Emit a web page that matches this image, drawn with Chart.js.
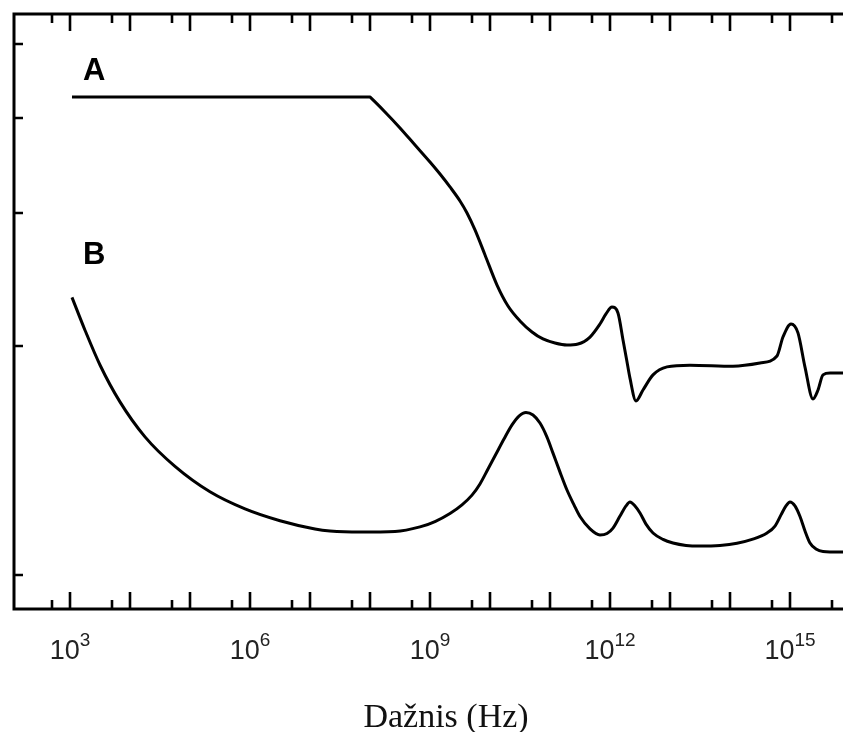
<!DOCTYPE html>
<html>
<head>
<meta charset="utf-8">
<script src="https://cdn.jsdelivr.net/npm/chart.js@4.4.1/dist/chart.umd.min.js"></script>
<style>
    html, body { margin: 0; padding: 0; background: #fff; overflow: hidden; }
    #wrap { position: absolute; left: 0; top: 0; width: 880px; height: 732px; }
</style>
</head>
<body>
<div id="wrap"><canvas id="chart" width="880" height="732"></canvas></div>
<script>
// Curve A: log10 of frequency and value
const aLogHz = [3.033, 5.5, 7.5, 8.0, 8.02, 8.25, 8.5, 8.75, 9.0, 9.167, 9.333, 9.5, 9.617, 9.75, 9.917,
    10.117, 10.3, 10.5, 10.7, 10.883, 11.083, 11.283, 11.467, 11.667, 11.833, 11.933, 12.033,
    12.133, 12.217, 12.275, 12.333, 12.433, 12.55, 12.717, 12.95, 13.333, 14.05, 14.5, 14.783,
    14.883, 15.017, 15.133, 15.25, 15.383, 15.467, 15.55, 15.667, 15.9];
const aValues = [4.257, 4.257, 4.257, 4.257, 4.243, 4.069, 3.877, 3.681, 3.496, 3.371, 3.242, 3.107, 2.996, 2.846, 2.638,
    2.408, 2.260, 2.160, 2.089, 2.045, 2.020, 2.008, 2.014, 2.057, 2.140, 2.206, 2.253,
    2.213, 2.039, 1.925, 1.816, 1.695, 1.752, 1.834, 1.879, 1.889, 1.883, 1.901, 1.942,
    2.057, 2.140, 2.083, 1.878, 1.705, 1.752, 1.834, 1.844, 1.844];

// Curve B
const bLogHz = [3.033, 3.25, 3.5, 3.833, 4.25, 4.75, 5.333, 5.917, 6.5, 7.083, 7.333, 7.833, 8.417,
    8.833, 9.083, 9.333, 9.533, 9.7, 9.833, 9.967, 10.1, 10.233, 10.367, 10.483, 10.6, 10.717,
    10.833, 10.95, 11.05, 11.167, 11.283, 11.4, 11.5, 11.667, 11.833, 11.95, 12.05, 12.167,
    12.267, 12.333, 12.417, 12.5, 12.6, 12.717, 12.883, 13.05, 13.267, 13.5, 13.833, 14.117,
    14.367, 14.617, 14.75, 14.85, 14.933, 15.0, 15.083, 15.167, 15.25, 15.333, 15.433, 15.55, 15.9];
const bValues = [2.32, 2.10, 1.89, 1.69, 1.52, 1.39, 1.287, 1.222, 1.179, 1.150, 1.143, 1.139, 1.141,
    1.157, 1.176, 1.205, 1.237, 1.274, 1.318, 1.379, 1.443, 1.510, 1.576, 1.619, 1.637, 1.624,
    1.585, 1.519, 1.447, 1.366, 1.294, 1.237, 1.194, 1.150, 1.129, 1.134, 1.153, 1.196,
    1.233, 1.248, 1.233, 1.207, 1.167, 1.136, 1.114, 1.102, 1.094, 1.092, 1.094, 1.101,
    1.114, 1.136, 1.160, 1.200, 1.233, 1.248, 1.233, 1.194, 1.143, 1.102, 1.082, 1.074, 1.072];

// Axis ticks
const xMajorTicks = [1e3, 1e4, 1e5, 1e6, 1e7, 1e8, 1e9, 1e10, 1e11, 1e12, 1e13, 1e14, 1e15, 1e16];
const xMinorTicks = [5e2, 5e3, 5e4, 5e5, 5e6, 5e7, 5e8, 5e9, 5e10, 5e11, 5e12, 5e13, 5e14, 5e15];
const xLabelExps = [3, 6, 9, 12, 15];
const yTicks = [1, 2, 3, 4, 5];

// Curve names placed at data coordinates
const curveNames = ['A', 'B'];
const nameHz = [1650, 1650];
const nameValues = [4.48, 2.57];

const xTitle = 'Dažnis (Hz)';

const toPoints = (lg, vals) => lg.map((e, i) => ({ x: Math.pow(10, e), y: vals[i] }));

const framePlugin = {
    id: 'frame',
    afterDraw(chart) {
        const { ctx, chartArea: area, scales: { x, y } } = chart;
        ctx.save();
        ctx.strokeStyle = '#000';
        ctx.lineCap = 'butt';

        // inward ticks on all four sides
        ctx.lineWidth = 2.6;
        ctx.beginPath();
        x.ticks.forEach(t => {
            const px = Math.round(x.getPixelForValue(t.value));
            const len = t.major ? 17 : 9;
            ctx.moveTo(px, area.bottom); ctx.lineTo(px, area.bottom - len);
            ctx.moveTo(px, area.top); ctx.lineTo(px, area.top + len);
        });
        y.ticks.forEach(t => {
            const py = Math.round(y.getPixelForValue(t.value));
            ctx.moveTo(area.left, py); ctx.lineTo(area.left + 9, py);
            ctx.moveTo(area.right, py); ctx.lineTo(area.right - 9, py);
        });
        ctx.stroke();

        ctx.lineWidth = 3;
        ctx.strokeRect(area.left, area.top, area.right - area.left, area.bottom - area.top);

        // decade labels with superscript exponents
        ctx.fillStyle = '#222';
        ctx.textBaseline = 'alphabetic';
        ctx.textAlign = 'left';
        const big = '27px "Liberation Sans", Arial, sans-serif';
        const small = '19px "Liberation Sans", Arial, sans-serif';
        xLabelExps.forEach(e => {
            const px = x.getPixelForValue(Math.pow(10, e));
            ctx.font = big;
            const w1 = ctx.measureText('10').width;
            ctx.font = small;
            const w2 = ctx.measureText(String(e)).width;
            const x0 = px - (w1 + w2) / 2;
            ctx.font = big;
            ctx.fillText('10', x0, area.bottom + 50);
            ctx.font = small;
            ctx.fillText(String(e), x0 + w1, area.bottom + 37);
        });

        // axis title
        ctx.fillStyle = '#111';
        ctx.textAlign = 'center';
        ctx.font = '34px "Liberation Serif", "Times New Roman", serif';
        ctx.fillText(xTitle, (area.left + area.right) / 2 + 13, area.bottom + 118);

        // curve names
        ctx.fillStyle = '#000';
        ctx.textAlign = 'left';
        ctx.font = 'bold 31px "Liberation Sans", Arial, sans-serif';
        curveNames.forEach((n, i) => {
            ctx.fillText(n, x.getPixelForValue(nameHz[i]), y.getPixelForValue(nameValues[i]));
        });
        ctx.restore();
    }
};

new Chart(document.getElementById('chart'), {
    type: 'line',
    data: {
        datasets: [
            { label: 'A', data: toPoints(aLogHz, aValues) },
            { label: 'B', data: toPoints(bLogHz, bValues) }
        ]
    },
    options: {
        responsive: false,
        animation: false,
        layout: { padding: { left: 14, top: 14, right: 28, bottom: 123 } },
        elements: {
            line: { borderColor: '#000', borderWidth: 3, cubicInterpolationMode: 'monotone', fill: false },
            point: { radius: 0 }
        },
        plugins: { legend: { display: false }, tooltip: { enabled: false } },
        scales: {
            x: {
                type: 'logarithmic',
                min: 116.6,
                max: 1.08e16,
                bounds: 'data',
                grid: { display: false },
                border: { display: false },
                ticks: { display: false },
                afterFit: s => { s.height = 0; },
                afterBuildTicks: s => {
                    s.ticks = xMinorTicks.map(v => ({ value: v, major: false }))
                        .concat(xMajorTicks.map(v => ({ value: v, major: true })));
                }
            },
            y: {
                type: 'logarithmic',
                min: 0.9022,
                max: 5.475,
                bounds: 'data',
                grid: { display: false },
                border: { display: false },
                ticks: { display: false },
                afterFit: s => { s.width = 0; },
                afterBuildTicks: s => {
                    s.ticks = yTicks.map(v => ({ value: v }));
                }
            }
        }
    },
    plugins: [framePlugin]
});
</script>
</body>
</html>
